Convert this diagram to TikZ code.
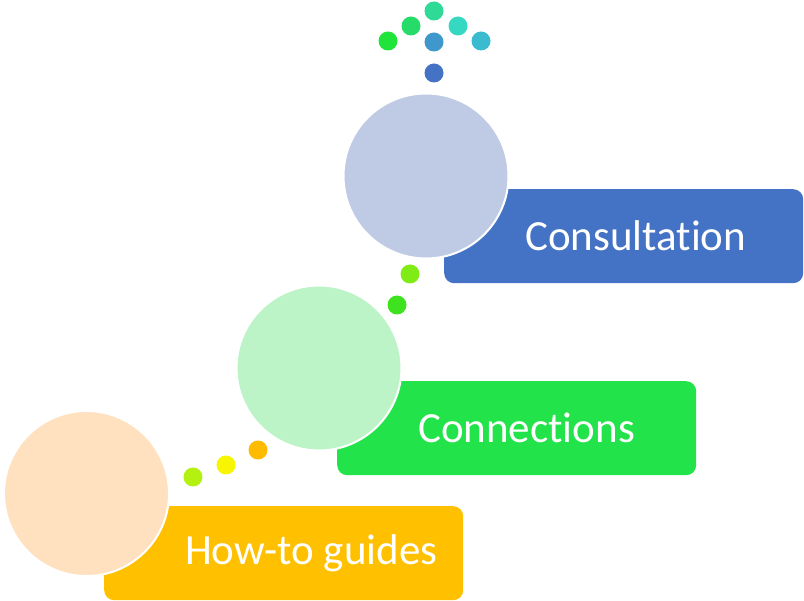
\documentclass[tikz,border=0pt]{standalone}
\usepackage{fontspec}
\setmainfont{Carlito}[Ligatures=NoCommon]
\usetikzlibrary{positioning}

\definecolor{peach}{HTML}{FFE0BF}
\definecolor{mint}{HTML}{BCF4C8}
\definecolor{haze}{HTML}{BFCAE4}
\definecolor{amber}{HTML}{FFC000}
\definecolor{leaf}{HTML}{23E34B}
\definecolor{navy}{HTML}{4472C4}

\begin{document}
\begin{tikzpicture}[x=1pt, y=-1pt]
	\tikzstyle{disc} = [circle, draw=white, line width=2pt, minimum size=165pt, inner sep=0pt]
	\tikzstyle{band} = [rectangle, rounded corners=10pt, minimum width=359pt, minimum height=94pt, anchor=north west, inner sep=0pt]
	\tikzstyle{caption} = [text=white, font=\fontsize{43}{50}\selectfont, inner sep=0pt]
	\tikzstyle{bead} = [circle, minimum size=19pt, inner sep=0pt]

	\useasboundingbox (0,0) rectangle (804,601);

	% steps
	\node[band, fill=amber] (b1) at (104,506) {};
	\node[disc, fill=peach] (c1) at (86.5,493.5) {};
	\node[caption, right=81pt of b1.west] (t1) {How-to guides};

	\node[band, fill=leaf] (b2) at (337,381) {};
	\node[disc, fill=mint] (c2) at (319,368) {};
	\node[caption, right=81pt of b2.west] (t2) {Connections};

	\node[band, fill=navy] (b3) at (444,189) {};
	\node[disc, fill=haze] (c3) at (426,176) {};
	\node[caption, right=81pt of b3.west] (t3) {Consultation};

	% dots
	\node[bead, fill={rgb,255:red,180;green,241;blue,17}] (d1) at (193,477) {};
	\node[bead, fill={rgb,255:red,247;green,245;blue,0}] (d2) at (226,465) {};
	\node[bead, fill={rgb,255:red,255;green,187;blue,0}] (d3) at (258,450) {};

	\node[bead, fill={rgb,255:red,63;green,226;blue,30}] (d4) at (397,305) {};
	\node[bead, fill={rgb,255:red,128;green,236;blue,22}] (d5) at (410,274) {};

	\node[bead, fill=navy] (d6) at (434,73) {};
	\node[bead, fill={rgb,255:red,63;green,152;blue,204}] (d7) at (434,42) {};
	\node[bead, fill={rgb,255:red,32;green,228;blue,58}] (d8) at (388,41) {};
	\node[bead, fill={rgb,255:red,58;green,187;blue,208}] (d9) at (481,41) {};
	\node[bead, fill={rgb,255:red,39;green,219;blue,105}] (d10) at (411,26) {};
	\node[bead, fill={rgb,255:red,53;green,216;blue,192}] (d11) at (458,26) {};
	\node[bead, fill={rgb,255:red,47;green,218;blue,151}] (d12) at (434,11) {};
\end{tikzpicture}
\end{document}
